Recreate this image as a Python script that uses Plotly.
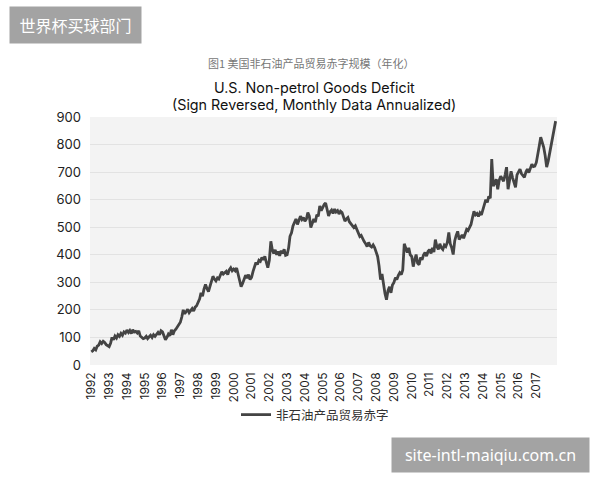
import plotly.graph_objects as go
import pandas as pd

# Monthly values, Jan 1992 onward
v1992 = [48, 52, 60, 55, 68, 72, 84, 78, 86, 82, 74, 70]
v1993 = [67, 80, 100, 92, 105, 98, 110, 104, 115, 108, 120, 116]
v1994 = [127, 118, 125, 114, 128, 120, 122, 116, 124, 105, 100, 96]
v1995 = [98, 104, 96, 102, 108, 100, 110, 104, 112, 118, 110, 124]
v1996 = [120, 105, 92, 100, 112, 106, 128, 110, 124, 130, 138, 150]
v1997 = [155, 175, 200, 186, 195, 202, 190, 198, 205, 196, 210, 215]
v1998 = [225, 240, 262, 250, 275, 292, 278, 266, 285, 300, 322, 312]
v1999 = [305, 316, 312, 326, 338, 330, 335, 340, 328, 345, 353, 342]
v2000 = [348, 342, 352, 330, 300, 284, 296, 312, 326, 315, 328, 310]
v2001 = [318, 340, 357, 372, 365, 380, 376, 390, 382, 394, 372, 353]
v2002 = [380, 449, 420, 405, 418, 400, 412, 396, 415, 405, 420, 398]
v2003 = [400, 425, 467, 480, 505, 517, 530, 510, 525, 540, 528, 535]
v2004 = [522, 530, 553, 540, 499, 520, 530, 518, 545, 540, 577, 560]
v2005 = [572, 583, 588, 565, 541, 556, 562, 550, 566, 555, 560, 548]
v2006 = [558, 553, 540, 522, 530, 535, 520, 512, 506, 499, 505, 490]
v2007 = [478, 466, 470, 455, 448, 440, 430, 445, 432, 428, 436, 426]
v2008 = [410, 394, 360, 310, 330, 291, 260, 237, 270, 284, 262, 290]
v2009 = [300, 317, 310, 325, 335, 328, 345, 440, 420, 408, 425, 400]
v2010 = [394, 357, 380, 401, 370, 364, 390, 382, 400, 408, 395, 412]
v2011 = [419, 405, 425, 410, 455, 430, 420, 440, 425, 419, 435, 430]
v2012 = [445, 481, 440, 425, 401, 450, 470, 485, 455, 463, 472, 460]
v2013 = [480, 492, 488, 500, 510, 535, 558, 545, 550, 539, 552, 545]
v2014 = [565, 580, 600, 590, 612, 605, 747, 649, 662, 674, 638, 670]
v2015 = [685, 672, 667, 690, 718, 638, 670, 703, 680, 660, 645, 690]
v2016 = [700, 711, 695, 688, 681, 700, 711, 698, 715, 729, 720, 722]
v2017 = [735, 760, 794, 827, 809, 790, 760, 718, 740, 770, 794, 830]
v2018 = [862, 885]

values = (v1992 + v1993 + v1994 + v1995 + v1996 + v1997 + v1998 + v1999 + v2000
          + v2001 + v2002 + v2003 + v2004 + v2005 + v2006 + v2007 + v2008 + v2009
          + v2010 + v2011 + v2012 + v2013 + v2014 + v2015 + v2016 + v2017 + v2018)
dates = pd.date_range("1992-01-01", periods=len(values), freq="MS")

years = list(range(1992, 2018))
year_ticks = [f"{y}-01-01" for y in years]
year_labels = [str(y) for y in years]
y_ticks = [0, 100, 200, 300, 400, 500, 600, 700, 800, 900]

series_name = "非石油产品贸易赤字"
subtitle = "图1 美国非石油产品贸易赤字规模（年化）"
title1 = "U.S. Non-petrol Goods Deficit"
title2 = "(Sign Reversed, Monthly Data Annualized)"

FONT = "Inter, 'Noto Sans CJK SC', sans-serif"
CJK = "'Noto Sans CJK SC', sans-serif"


def px_to_paper_x(px):
    return (px - 90) / 467.0


def px_to_paper_y(py):
    return (365 - py) / 248.0


fig = go.Figure()
fig.add_trace(go.Scatter(
    x=dates, y=values, mode="lines", name=series_name,
    line=dict(color="#444444", width=2.8),
))

fig.update_layout(
    width=600, height=480,
    margin=dict(l=90, r=43, t=117, b=115),
    paper_bgcolor="white", plot_bgcolor="#f3f3f3",
    font=dict(family=FONT, color="#222222"),
    showlegend=True,
    legend=dict(orientation="h", x=px_to_paper_x(236), y=px_to_paper_y(415),
                xanchor="left", yanchor="middle",
                font=dict(family=CJK, size=12.5, color="#333333"),
                itemwidth=30, bgcolor="rgba(0,0,0,0)"),
    xaxis=dict(type="date", range=["1991-12-05", "2018-03-01"],
               tickvals=year_ticks, ticktext=year_labels, tickangle=-90,
               tickfont=dict(size=12, color="#222222"),
               showgrid=False, zeroline=False, showline=False, ticks="",
               ticklabelstandoff=4),
    yaxis=dict(range=[0, 900], tickvals=y_ticks,
               tickfont=dict(size=13, color="#222222"),
               showgrid=True, gridcolor="#e2e2e2", gridwidth=1,
               zeroline=False, showline=False, ticks="",
               ticklabelstandoff=8),
    annotations=[
        dict(text=subtitle, x=px_to_paper_x(311), y=px_to_paper_y(63), xref="paper", yref="paper",
             showarrow=False, xanchor="center", yanchor="middle",
             font=dict(family=CJK, size=11, color="#777777")),
        dict(text=title1, x=px_to_paper_x(314), y=px_to_paper_y(87), xref="paper", yref="paper",
             showarrow=False, xanchor="center", yanchor="middle",
             font=dict(family=FONT, size=14.3, color="#111111")),
        dict(text=title2, x=px_to_paper_x(314), y=px_to_paper_y(105), xref="paper", yref="paper",
             showarrow=False, xanchor="center", yanchor="middle",
             font=dict(family=FONT, size=14.3, color="#111111")),
        dict(text="世界杯买球部门", x=px_to_paper_x(75.5), y=px_to_paper_y(25),
             xref="paper", yref="paper", showarrow=False, xanchor="center", yanchor="middle",
             bgcolor="#a3a3a3", borderpad=6, width=119,
             font=dict(family=CJK, size=16, color="white")),
        dict(text="site-intl-maiqiu.com.cn", x=px_to_paper_x(490.5), y=px_to_paper_y(455),
             xref="paper", yref="paper", showarrow=False, xanchor="center", yanchor="middle",
             bgcolor="#a3a3a3", borderpad=6, width=185,
             font=dict(family="'Noto Sans', sans-serif", size=16, color="white")),
    ],
)

fig.write_html("out.html")
